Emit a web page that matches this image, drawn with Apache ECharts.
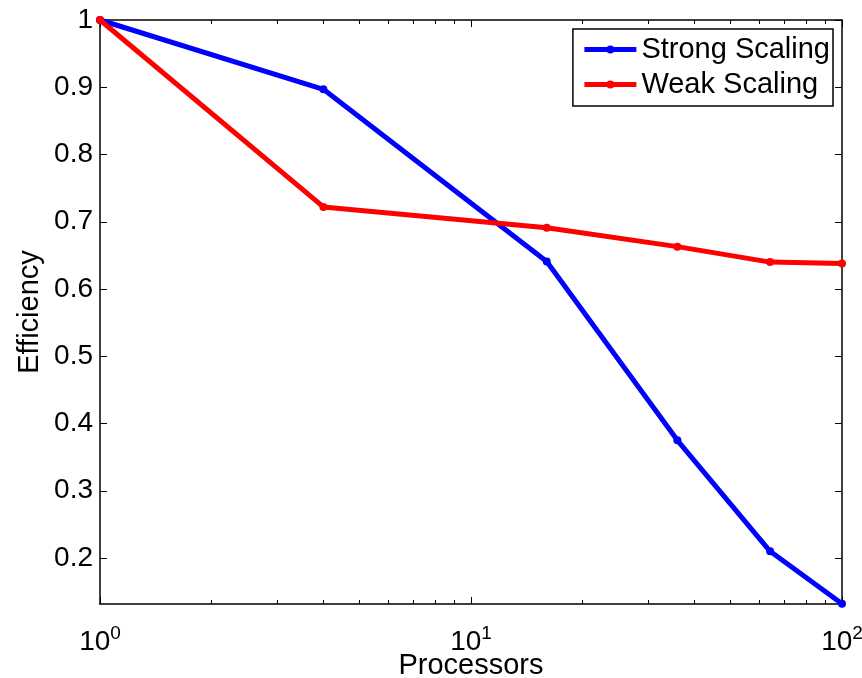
<!DOCTYPE html>
<html>
<head>
<meta charset="utf-8">
<script src="https://cdn.jsdelivr.net/npm/echarts@6/dist/echarts.min.js"></script>
<style>
  html, body { margin: 0; padding: 0; background: #fff; }
  #main { width: 862px; height: 678px; }
</style>
</head>
<body>
<div id="main"></div>
<script>
// data
var processors = [1, 4, 16, 36, 64, 100];
var strongScaling = [1.0, 0.897, 0.641, 0.375, 0.210, 0.132];
var weakScaling = [1.0, 0.722, 0.691, 0.663, 0.640, 0.638];
var yTicks = [0.2, 0.3, 0.4, 0.5, 0.6, 0.7, 0.8, 0.9, 1];
var xLabels = [1, 10, 100];
var xTicks = [1, 2, 3, 4, 5, 6, 7, 8, 9, 10, 20, 30, 40, 50, 60, 70, 80, 90, 100];

(function () {
  var font = 'Liberation Sans';
  var myChart = echarts.init(document.getElementById('main'));

  function pairs(ys) {
    return processors.map(function (p, i) { return [p, ys[i]]; });
  }

  var gridBox = { left: 100, right: 20, top: 20, bottom: 74, outerBoundsMode: 'none', containLabel: false };
  var axisLine = { show: true, lineStyle: { color: '#000', width: 1.5 } };
  var minorTicks = { inside: true, length: 4, lineStyle: { color: '#000' }, customValues: xTicks };
  var majorTicks = { inside: true, length: 7, lineStyle: { color: '#000' }, customValues: xLabels };
  var yTickStyle = { inside: true, length: 7, lineStyle: { color: '#000' }, customValues: yTicks };

  var option = {
    backgroundColor: '#fff',
    animation: false,
    textStyle: { fontFamily: font },
    grid: [gridBox, Object.assign({}, gridBox)],
    legend: {
      orient: 'vertical',
      right: 29,
      top: 29,
      itemWidth: 52,
      itemHeight: 10,
      itemGap: 6,
      padding: [6, 3, 7, 9],
      borderColor: '#000',
      borderWidth: 1.5,
      borderRadius: 0,
      backgroundColor: '#fff',
      lineStyle: { width: 5 },
      textStyle: { fontFamily: font, fontSize: 29, color: '#000' },
      data: ['Strong Scaling', 'Weak Scaling']
    },
    xAxis: [
      {
        gridIndex: 0, type: 'log', logBase: 10, min: 1, max: 100,
        name: 'Processors', nameLocation: 'middle', nameGap: 47, nameMoveOverlap: false,
        nameTextStyle: { fontSize: 29, color: '#000' },
        axisLine: axisLine,
        axisTick: minorTicks,
        splitLine: { show: false },
        axisLabel: {
          margin: 20,
          customValues: xLabels,
          formatter: function (v) {
            return '{b|10}{s|' + Math.round(Math.log10(v)) + '}';
          },
          rich: {
            b: { fontSize: 28, color: '#000', fontFamily: font },
            s: { fontSize: 19, color: '#000', fontFamily: font, padding: [0, 0, 18, 0] }
          }
        }
      },
      {
        gridIndex: 0, type: 'log', logBase: 10, min: 1, max: 100, position: 'top',
        axisLine: axisLine,
        axisTick: minorTicks,
        axisLabel: { show: false },
        splitLine: { show: false }
      },
      {
        gridIndex: 1, type: 'log', logBase: 10, min: 1, max: 100, position: 'bottom',
        axisLine: { show: false },
        axisTick: majorTicks,
        axisLabel: { show: false },
        splitLine: { show: false }
      },
      {
        gridIndex: 1, type: 'log', logBase: 10, min: 1, max: 100, position: 'top',
        axisLine: { show: false },
        axisTick: majorTicks,
        axisLabel: { show: false },
        splitLine: { show: false }
      }
    ],
    yAxis: [
      {
        gridIndex: 0, type: 'value', min: 0.1316, max: 1,
        name: 'Efficiency', nameLocation: 'middle', nameGap: 56, nameMoveOverlap: false,
        nameTextStyle: { fontSize: 29, color: '#000' },
        axisLine: axisLine,
        axisTick: yTickStyle,
        splitLine: { show: false },
        axisLabel: {
          fontSize: 28, color: '#000', margin: 7,
          customValues: yTicks,
          formatter: function (v) { return v === 1 ? '1' : v.toFixed(1); }
        }
      },
      {
        gridIndex: 0, type: 'value', min: 0.1316, max: 1, position: 'right',
        axisLine: axisLine,
        axisTick: yTickStyle,
        axisLabel: { show: false },
        splitLine: { show: false }
      },
      {
        gridIndex: 1, type: 'value', min: 0.1316, max: 1, show: false
      }
    ],
    series: [
      {
        name: 'Strong Scaling', type: 'line',
        xAxisIndex: 0, yAxisIndex: 0,
        data: pairs(strongScaling),
        symbol: 'circle', symbolSize: 8,
        lineStyle: { color: '#0000ff', width: 5 },
        itemStyle: { color: '#0000ff' },
        z: 3
      },
      {
        name: 'Weak Scaling', type: 'line',
        xAxisIndex: 0, yAxisIndex: 0,
        data: pairs(weakScaling),
        symbol: 'circle', symbolSize: 8,
        lineStyle: { color: '#ff0000', width: 5 },
        itemStyle: { color: '#ff0000' },
        z: 4
      }
    ]
  };
  myChart.setOption(option);
})();
</script>
</body>
</html>
